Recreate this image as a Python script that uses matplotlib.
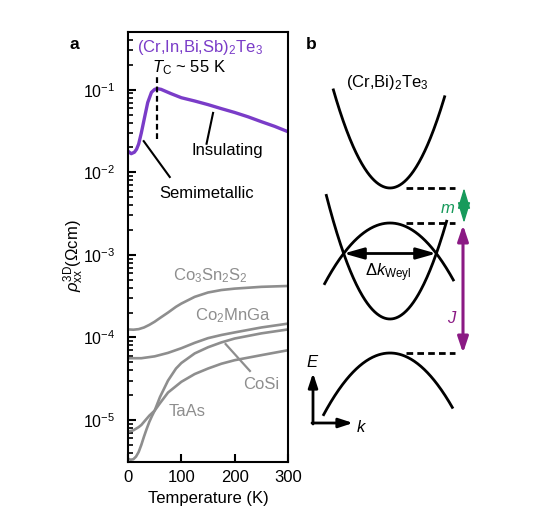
import matplotlib
matplotlib.use('Agg')
import matplotlib.pyplot as plt
import numpy as np
from matplotlib.ticker import LogLocator, NullFormatter, FixedLocator

plt.rcParams['font.family'] = ['Liberation Sans', 'DejaVu Sans']
plt.rcParams['mathtext.fontset'] = 'custom'
plt.rcParams['mathtext.rm'] = 'Liberation Sans'
plt.rcParams['mathtext.it'] = 'Liberation Sans:italic'
plt.rcParams['mathtext.bf'] = 'Liberation Sans:bold'
plt.rcParams['mathtext.sf'] = 'Liberation Sans'

# ---------------- data (panel a) ----------------
T_cibst = [0, 6, 12, 16, 20, 25, 31, 37, 44, 50, 55, 62, 80, 100, 125, 150, 175, 200, 225, 250, 275, 300]
rho_cibst = [0.018, 0.0168, 0.0175, 0.019, 0.022, 0.030, 0.046, 0.070, 0.093, 0.101, 0.103, 0.101,
             0.090, 0.080, 0.073, 0.066, 0.059, 0.053, 0.047, 0.041, 0.036, 0.031]

T_css = [0, 10, 20, 30, 40, 50, 60, 75, 90, 100, 125, 150, 175, 200, 250, 300]
rho_css = [1.25e-4, 1.24e-4, 1.26e-4, 1.32e-4, 1.42e-4, 1.55e-4, 1.72e-4, 2.0e-4, 2.35e-4, 2.57e-4,
           3.1e-4, 3.5e-4, 3.75e-4, 3.9e-4, 4.1e-4, 4.2e-4]

T_cmg = [0, 25, 50, 75, 100, 125, 150, 175, 200, 250, 300]
rho_cmg = [5.6e-5, 5.6e-5, 5.9e-5, 6.5e-5, 7.4e-5, 8.6e-5, 9.8e-5, 1.07e-4, 1.15e-4, 1.32e-4, 1.47e-4]

T_steep = [0, 5, 10, 15, 20, 25, 30, 35, 40, 45, 50, 60, 75, 90, 100, 125, 150, 175, 200, 250, 300]
rho_steep = [3.4e-6, 3.3e-6, 3.35e-6, 3.6e-6, 4.1e-6, 5.0e-6, 6.3e-6, 7.8e-6, 9.5e-6, 1.12e-5, 1.3e-5,
             1.9e-5, 3.0e-5, 4.2e-5, 4.9e-5, 6.4e-5, 7.6e-5, 8.7e-5, 9.7e-5, 1.12e-4, 1.25e-4]

T_slow = [0, 10, 20, 25, 30, 40, 50, 60, 75, 100, 125, 150, 175, 200, 250, 300]
rho_slow = [7.2e-6, 7.5e-6, 8.2e-6, 8.7e-6, 9.5e-6, 1.13e-5, 1.3e-5, 1.6e-5, 2.15e-5, 2.9e-5, 3.6e-5,
            4.2e-5, 4.8e-5, 5.3e-5, 6.1e-5, 7.0e-5]

Tc = 55
xticks = [0, 100, 200, 300]

# ---------------- schematic parameters (panel b) ----------------
# each band: (vertex E, curvature, k_min, k_max) in panel units
band_vertex = [188, 319, 223, 353]
band_curv = [-0.0306, -0.0305, 0.0142, 0.014]
band_kmin = [-57, -64, -66, -67]
band_kmax = [55, 57, 64, 63]
k0 = 390
level_E = [188, 223, 353]

PURPLE = '#7a3cc8'
GRAY = '#8e8e8e'
GREEN = '#179a5b'
JCOL = '#8b1a84'
FS = 12
TFS = 11.5

W, H = 550, 532
fig = plt.figure(figsize=(W / 100, H / 100), dpi=100)


def fr(x0, y0, x1, y1):
    return [x0 / W, 1 - y1 / H, (x1 - x0) / W, (y1 - y0) / H]


ax = fig.add_axes(fr(128, 32, 288, 462))
ax.set_yscale('log')
ax.set_xlim(0, 300)
ax.set_ylim(3.1e-6, 0.5)

for T, r in [(T_css, rho_css), (T_cmg, rho_cmg), (T_steep, rho_steep), (T_slow, rho_slow)]:
    ax.plot(T, r, color=GRAY, lw=1.9, solid_capstyle='butt')
ax.plot(T_cibst, rho_cibst, color=PURPLE, lw=2.4, solid_capstyle='butt')
ax.plot([Tc, Tc], [0.025, 0.145], color='black', lw=1.6, dashes=[2.6, 1.6])

for s in ax.spines.values():
    s.set_linewidth(1.5)
ax.xaxis.set_major_locator(FixedLocator(xticks))
ax.tick_params(axis='x', which='major', direction='in', length=6, width=1.5, labelsize=FS, pad=6, top=False)
ax.tick_params(axis='y', which='major', direction='in', length=6, width=1.5, labelsize=TFS, pad=9, right=False)
ax.tick_params(axis='y', which='minor', direction='in', length=3.5, width=1.2, right=False)
ax.yaxis.set_major_locator(LogLocator(base=10, numticks=20))
ax.yaxis.set_minor_locator(LogLocator(base=10, subs=np.arange(2, 10), numticks=20))
ax.yaxis.set_minor_formatter(NullFormatter())

ax.set_xlabel('Temperature (K)', fontsize=FS, labelpad=4)
ax.set_ylabel(r'$\rho_{\mathrm{xx}}^{\mathrm{3D}}$($\Omega$cm)', fontsize=FS, labelpad=1)
ax.yaxis.set_label_coords(-0.265, 0.48)

ax.text(16, 10 ** -0.494, r'(Cr,In,Bi,Sb)$_2$Te$_3$', color=PURPLE, fontsize=FS, ha='left', va='center')
ax.text(44.6, 10 ** -0.735, r'$T_{\mathrm{C}}$ ~ 55 K', fontsize=FS, ha='left', va='center')
ax.text(186, 10 ** -1.731, 'Insulating', fontsize=FS, ha='center', va='center')
ax.plot([159.5, 147.3], [10 ** -1.281, 10 ** -1.654], color='black', lw=1.5)
ax.text(147, 10 ** -2.253, 'Semimetallic', fontsize=FS, ha='center', va='center')
ax.plot([29.5, 78.3], [10 ** -1.623, 10 ** -2.057], color='black', lw=1.5)

ax.text(155, 10 ** -3.249, r'Co$_3$Sn$_2$S$_2$', color=GRAY, fontsize=FS, ha='center', va='center')
ax.text(196, 10 ** -3.742, r'Co$_2$MnGa', color=GRAY, fontsize=FS, ha='center', va='center')
ax.text(250, 10 ** -4.575, 'CoSi', color=GRAY, fontsize=FS, ha='center', va='center')
ax.plot([183, 228.6], [10 ** -4.08, 10 ** -4.406], color=GRAY, lw=1.6)
ax.text(111, 10 ** -4.896, 'TaAs', color=GRAY, fontsize=FS, ha='center', va='center')

fig.text(74 / W, 1 - 49 / H, 'a', fontsize=12.5, fontweight='bold', ha='center', va='baseline')
fig.text(311 / W, 1 - 49 / H, 'b', fontsize=12.5, fontweight='bold', ha='center', va='baseline')

# ---------------- panel b ----------------
bx = fig.add_axes(fr(290, 30, 500, 450))
bx.set_xlim(290, 500)
bx.set_ylim(450, 30)
bx.axis('off')

for vE, a, kmin, kmax in zip(band_vertex, band_curv, band_kmin, band_kmax):
    dk = np.linspace(kmin, kmax, 200)
    bx.plot(k0 + dk, vE + a * dk ** 2, color='black', lw=2.0, solid_capstyle='butt')

for E in level_E:
    bx.plot([k0 + 16, 455], [E, E], color='black', lw=2.0, dashes=[2.4, 1.5])

bx.text(387, 83, r'(Cr,Bi)$_2$Te$_3$', fontsize=FS, ha='center', va='center')


def darrow(x0, y0, x1, y1, color, lw, hl, hw, style='<|-|>'):
    bx.annotate('', xy=(x1, y1), xytext=(x0, y0),
                arrowprops=dict(arrowstyle=f'{style},head_length={hl},head_width={hw}',
                                color=color, lw=lw, shrinkA=0, shrinkB=0, mutation_scale=1))


# crossing points of the two inner bands give the Weyl separation
a_up, a_dn = band_curv[1], band_curv[2]
dk_cross = np.sqrt((band_vertex[1] - band_vertex[2]) / (a_dn - a_up))
E_cross = band_vertex[2] + a_dn * dk_cross ** 2
darrow(k0 - dk_cross, E_cross, k0 + dk_cross, E_cross, 'black', 2.0, 12, 3.4)
bx.text(388, 276.7, r'$\Delta k_{\mathrm{Weyl}}$', fontsize=FS, ha='center', va='baseline')

darrow(464, level_E[0], 464, level_E[1], GREEN, 1.0, 12.8, 3.9)
bx.text(447.5, 213, r'$m$', color=GREEN, fontsize=FS, ha='center', va='baseline')
darrow(463, level_E[1] + 2, 463, level_E[2], JCOL, 2.2, 9.5, 3.2)
bx.text(452, 323, r'$J$', color=JCOL, fontsize=FS, ha='center', va='baseline')

darrow(313, 424, 313, 373, 'black', 2.0, 8.5, 2.8, style='-|>')
darrow(312, 423, 353, 423, 'black', 2.0, 8.5, 2.8, style='-|>')
bx.text(313, 367, r'$E$', fontsize=FS, ha='center', va='baseline')
bx.text(362, 431.7, r'$k$', fontsize=FS, ha='center', va='baseline')

fig.savefig('out.png', dpi=100)
